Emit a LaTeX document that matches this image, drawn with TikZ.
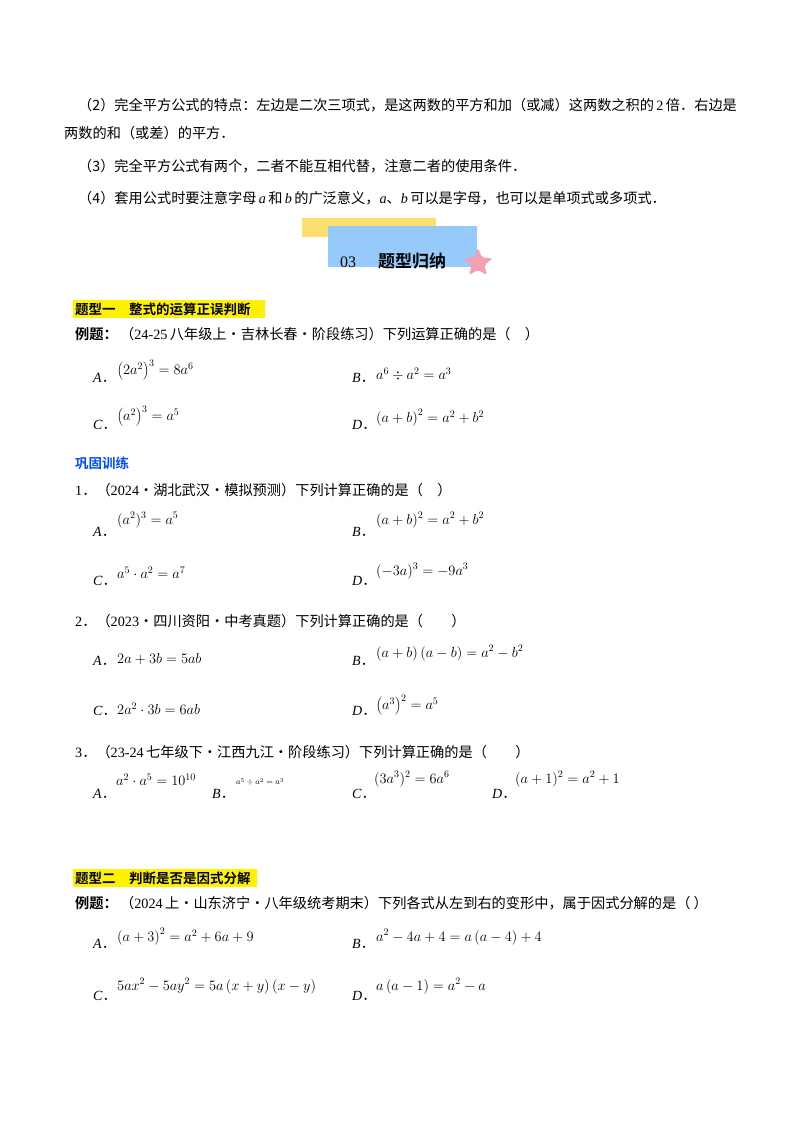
\documentclass[tikz,border=0pt]{standalone}
\usepackage{fontspec}
\setmainfont{Liberation Serif}
\newfontfamily\cjk{Noto Sans CJK SC}
\newfontfamily\cjkb{Noto Sans CJK SC Bold}
\usetikzlibrary{shapes.geometric}
\definecolor{bnblue}{RGB}{150,202,250}
\definecolor{bnyel}{RGB}{253,224,110}
\definecolor{bnpink}{RGB}{245,160,180}
\newcommand{\dt}{{\cjk ．}}
\begin{document}
\begin{tikzpicture}[x=1pt,y=-1pt,
  txt/.style={anchor=west,inner sep=0pt,font=\fontsize{14.2}{16}\selectfont\cjk},
  mth/.style={anchor=west,inner sep=0pt,font=\fontsize{14}{16}\selectfont},
  opt/.style={anchor=west,inner sep=0pt,font=\fontsize{14}{16}\selectfont\itshape}]
\useasboundingbox (0,0) rectangle (800,1132);
\fill[white] (0,0) rectangle (800,1132);
\node[txt] (l1) at (78,105) {（2）完全平方公式的特点：左边是二次三项式，是这两数的平方和加（或减）这两数之积的\,{\rmfamily 2}\,倍．右边是};
\node[txt] (l2) at (64,133) {两数的和（或差）的平方．};
\node[txt] (l3) at (78,166) {（3）完全平方公式有两个，二者不能互相代替，注意二者的使用条件．};
\node[txt] (l4) at (78,198) {（4）套用公式时要注意字母\,{\rmfamily\itshape a}\,和\,{\rmfamily\itshape b}\,的广泛意义，{\rmfamily\itshape a}、{\rmfamily\itshape b}\,可以是字母，也可以是单项式或多项式．};
% banner
\fill[bnyel] (302,218) rectangle (436,237);
\fill[bnblue] (328,226) rectangle (477,267);
\node[mth,font=\fontsize{16}{18}\selectfont] (n03) at (340,262) {03};
\node[txt,font=\fontsize{17}{19}\selectfont\cjkb] (tg) at (378,261) {题型归纳};
\node[star,star points=5,star point ratio=2.2,fill=bnpink,minimum size=30pt,inner sep=0pt,rounded corners=2pt] (st) at (478,263) {};
% type 1
\fill[yellow] (73,300) rectangle (265,318);
\node[txt,font=\fontsize{13.5}{15}\selectfont\cjkb] (t1) at (75,309) {题型一\quad 整式的运算正误判断};
\node[txt] (e1) at (75,334) {{\cjkb 例题：}\,（{\rmfamily 24-25}\,八年级上·吉林长春·阶段练习）下列运算正确的是（\quad）};
\node[opt] (e1a) at (93,378) {A\dt}; \node[mth] at (117,370) {$\left(2a^2\right)^3=8a^6$};
\node[opt] (e1b) at (352,378) {B\dt}; \node[mth] at (376,374) {$a^6\div a^2=a^3$};
\node[opt] (e1c) at (93,425) {C\dt}; \node[mth] at (117,416) {$\left(a^2\right)^3=a^5$};
\node[opt] (e1d) at (352,425) {D\dt}; \node[mth] at (376,418) {$\left(a+b\right)^2=a^2+b^2$};
\node[txt,font=\fontsize{13.5}{15}\selectfont\cjkb,text=blue!70!cyan] (gg) at (75,463) {巩固训练};
% q1
\node[txt] (q1) at (75,490) {{\rmfamily 1}．（{\rmfamily 2024}·湖北武汉·模拟预测）下列计算正确的是（\quad）};
\node[opt] at (93,532) {A\dt}; \node[mth] at (117,520) {$(a^2)^3=a^5$};
\node[opt] at (352,532) {B\dt}; \node[mth] at (376,520) {$(a+b)^2=a^2+b^2$};
\node[opt] at (93,581) {C\dt}; \node[mth] at (117,573) {$a^5\cdot a^2=a^7$};
\node[opt] at (352,581) {D\dt}; \node[mth] at (376,571) {$(-3a)^3=-9a^3$};
% q2
\node[txt] (q2) at (75,621) {{\rmfamily 2}．（{\rmfamily 2023}·四川资阳·中考真题）下列计算正确的是（\qquad）};
\node[opt] at (93,661) {A\dt}; \node[mth] at (117,659) {$2a+3b=5ab$};
\node[opt] at (352,661) {B\dt}; \node[mth] at (376,653) {$\left(a+b\right)\left(a-b\right)=a^2-b^2$};
\node[opt] at (93,711) {C\dt}; \node[mth] at (117,709) {$2a^2\cdot 3b=6ab$};
\node[opt] at (352,711) {D\dt}; \node[mth] at (376,705) {$\left(a^3\right)^2=a^5$};
% q3
\node[txt] (q3) at (75,752) {{\rmfamily 3}．（{\rmfamily 23-24}\,七年级下·江西九江·阶段练习）下列计算正确的是（\qquad）};
\node[opt] at (93,794) {A\dt}; \node[mth] at (116,780) {$a^2\cdot a^5=10^{10}$};
\node[opt] at (212,794) {B\dt}; \node[mth,font=\fontsize{8}{10}\selectfont] at (236,782) {$a^5\div a^2=a^3$};
\node[opt] at (352,794) {C\dt}; \node[mth] at (374,779) {$(3a^3)^2=6a^6$};
\node[opt] at (492,794) {D\dt}; \node[mth] at (515,779) {$(a+1)^2=a^2+1$};
% type 2
\fill[yellow] (73,869) rectangle (257,887);
\node[txt,font=\fontsize{13.5}{15}\selectfont\cjkb] (t2) at (75,878) {题型二\quad 判断是否是因式分解};
\node[txt] (e2) at (75,903) {{\cjkb 例题：}\,（{\rmfamily 2024}\,上·山东济宁·八年级统考期末）下列各式从左到右的变形中，属于因式分解的是（\ ）};
\node[opt] at (93,944) {A\dt}; \node[mth] at (117,937) {$\left(a+3\right)^2=a^2+6a+9$};
\node[opt] at (352,944) {B\dt}; \node[mth] at (376,937) {$a^2-4a+4=a\left(a-4\right)+4$};
\node[opt] at (93,996) {C\dt}; \node[mth] at (117,986) {$5ax^2-5ay^2=5a\left(x+y\right)\left(x-y\right)$};
\node[opt] at (352,996) {D\dt}; \node[mth] at (376,986) {$a\left(a-1\right)=a^2-a$};
\end{tikzpicture}
\end{document}
